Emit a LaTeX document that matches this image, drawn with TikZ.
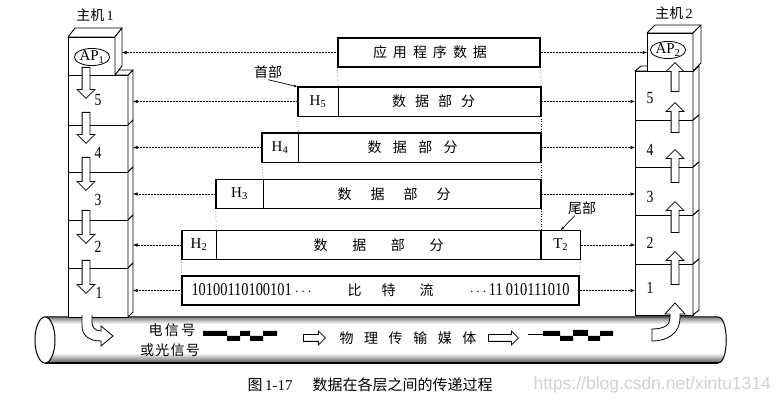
\documentclass[tikz,border=0pt]{standalone}
\usepackage{fontspec}
\setmainfont{Liberation Serif}
\newfontfamily\cjk{Noto Sans CJK SC}
\newfontfamily\narrow[FakeStretch=0.8]{Liberation Serif}
\newfontfamily\wmfont{Liberation Sans}
\usepackage{tikz}
\usetikzlibrary{positioning, arrows.meta, shapes.geometric, shapes.arrows}

\begin{document}
\begin{tikzpicture}[
    x=1pt, y=-1pt,
    layer/.style={draw=black, line width=0.9pt, fill=white, line join=round},
    pdu/.style={rectangle, draw, line width=0.6pt, minimum height=29pt, inner sep=0pt, font=\cjk\fontsize{14}{16}\selectfont},
    hdr/.style={pdu, font=\fontsize{15}{17}\selectfont},
    frame/.style={line width=1.3pt},
    num/.style={font=\narrow\fontsize{17}{19}\selectfont},
    ap/.style={ellipse, draw, line width=0.8pt, fill=white, inner sep=0pt, minimum height=17pt, font=\fontsize{15}{17}\selectfont},
    note/.style={font=\cjk\fontsize{14}{16}\selectfont, inner sep=1pt},
    hollow/.style={single arrow, draw, fill=white, line width=0.8pt, anchor=tail, inner sep=3.5pt, minimum width=17pt, single arrow head extend=5pt},
    goesdown/.style={hollow, rotate=-90},
    goesup/.style={hollow, rotate=90},
    link/.style={densely dotted, line width=0.5pt, -{Latex[length=4.5pt, width=3.5pt]}},
    guide/.style={dotted, line width=0.5pt},
    lead/.style={line width=0.7pt, -{Latex[length=3.5pt, width=2.5pt]}}
    ]
    \useasboundingbox (0,0) rectangle (779,411);
    \fill[white] (0,0) rectangle (779,411);

    % Physical medium (pipe)
    \begin{scope}
        \clip (45,317) -- (718,317) .. controls (729,317) and (729,363) .. (718,363) -- (45,363) -- cycle;
        \fill[white] (40,310) rectangle (730,370);
        \shade[top color=black!50, bottom color=white] (40,317) rectangle (730,324);
        \shade[top color=white, bottom color=black!65] (40,353) rectangle (730,363);
    \end{scope}
    \draw[line width=1pt] (45,317) -- (718,317) .. controls (729,317) and (729,363) .. (718,363);
    \draw[line width=2.2pt] (718,363) -- (45,363);
    \draw[line width=1pt, fill=white] (45,340) ellipse [x radius=10, y radius=23];

    % Host 1 stack
    \foreach \t/\b in {75/125, 125/172, 172/220, 220/268, 268/317} {
        \draw[layer] (68,\t) rectangle (128,\b);
        \draw[layer] (128,\t) -- ++(5,-5) -- (133,{\b-5}) -- (128,\b) -- cycle;
    }
    \draw[layer] (68,75) -- (73,70) -- (133,70) -- (128,75) -- cycle;
    \draw[layer] (68,37) rectangle (115,75);
    \draw[layer] (68,37) -- (75,28) -- (122,28) -- (115,37) -- cycle;
    \draw[layer] (115,37) -- (122,28) -- (122,66) -- (115,75) -- cycle;

    % Host 2 stack
    \foreach \t/\b in {71/120, 120/167, 167/215, 215/264, 264/315} {
        \draw[layer] (635,\t) rectangle (693,\b);
        \draw[layer] (693,\t) -- ++(6,-5) -- (699,{\b-5}) -- (693,\b) -- cycle;
    }
    \draw[layer] (635,71) -- (641,66) -- (699,66) -- (693,71) -- cycle;
    \draw[layer] (647,33) rectangle (693,71);
    \draw[layer] (647,33) -- (655,25) -- (701,25) -- (693,33) -- cycle;
    \draw[layer] (693,33) -- (701,25) -- (701,63) -- (693,71) -- cycle;

    \coordinate (apL) at (122,0);
    \coordinate (stL) at (133,0);
    \coordinate (apR) at (647,0);
    \coordinate (stR) at (635,0);

    % Nodes
    \node[note] (host1) at (95,15) {主机\,{\rmfamily\fontsize{14}{16}\selectfont 1}};
    \node[note] (host2) at (674,13) {主机\,{\rmfamily\fontsize{14}{16}\selectfont 2}};

    \node[ap, minimum width=34pt] (ap1) at (92,57) {AP\textsubscript{1}};
    \node[ap, minimum width=30pt] (ap2) at (668,50) {AP\textsubscript{2}};

    \node[num] (ln5) at (98,100) {5};
    \node[num] (ln4) at (98,153) {4};
    \node[num] (ln3) at (98,200) {3};
    \node[num] (ln2) at (98,247) {2};
    \node[num] (ln1) at (99,293) {1};
    \node[num] (rn5) at (650,98) {5};
    \node[num] (rn4) at (650,150) {4};
    \node[num] (rn3) at (650,197) {3};
    \node[num] (rn2) at (650,243) {2};
    \node[num] (rn1) at (650,288) {1};

    \node[goesdown, minimum height=31pt] (dn5) at (86,67) {};
    \node[goesdown, minimum height=31pt] (dn4) at (86,112) {};
    \node[goesdown, minimum height=33pt] (dn3) at (86,157) {};
    \node[goesdown, minimum height=33pt] (dn2) at (86,210) {};
    \node[goesdown, minimum height=33pt] (dn1) at (86,260) {};
    \node[goesup, minimum height=33pt] (up2) at (675,285) {};
    \node[goesup, minimum height=31pt] (up3) at (675,233) {};
    \node[goesup, minimum height=33pt] (up4) at (675,183) {};
    \node[goesup, minimum height=30pt] (up5) at (675,133) {};
    \node[goesup, minimum height=29pt] (upap) at (675,92) {};

    \node[pdu, frame, minimum width=202pt] (app) at (439,52.5) {\makebox[114pt]{应\hfill 用\hfill 程\hfill 序\hfill 数\hfill 据}\hspace*{18pt}};

    \node[hdr, minimum width=40pt] (h5) at (318,101.5) {H\textsubscript{5}};
    \node[pdu, right=0pt of h5, minimum width=202pt] (d5) {\makebox[83pt]{数\hfill 据\hfill 部\hfill 分}\hspace*{12pt}};

    \node[hdr, minimum width=36pt] (h4) at (280,147.5) {H\textsubscript{4}};
    \node[pdu, right=0pt of h4, minimum width=242pt] (d4) {\makebox[90pt]{数\hfill 据\hfill 部\hfill 分}\hspace*{14pt}};

    \node[hdr, minimum width=47pt] (h3) at (239.5,194) {H\textsubscript{3}};
    \node[pdu, right=0pt of h3, minimum width=277pt] (d3) {\makebox[113pt]{数\hfill 据\hfill 部\hfill 分}\hspace*{16pt}};

    \node[hdr, minimum width=34pt] (h2) at (199,245) {H\textsubscript{2}};
    \node[pdu, right=0pt of h2, minimum width=324pt] (d2) {\makebox[130pt]{数\hfill 据\hfill 部\hfill 分}};
    \node[hdr, right=0pt of d2, minimum width=39pt] (t2) {T\textsubscript{2}};

    \node[pdu, frame, minimum width=397pt, text width=378pt, align=left] (bits) at (380.5,290.5)
        {{\narrow\fontsize{18}{20}\selectfont 10100110100101\,}$\cdots$\hspace{36pt}比\hspace{20pt}特\hspace{24pt}流\hfill$\cdots$\,{\narrow\fontsize{18}{20}\selectfont 11\,010111010}};

    % Frames round the split units
    \draw[frame] (h5.north west) rectangle (d5.south east);
    \draw[frame] (h4.north west) rectangle (d4.south east);
    \draw[frame] (h3.north west) rectangle (d3.south east);
    \draw[frame] (h2.north west) rectangle (t2.south east);

    \node[note] (head) at (268,72) {首部};
    \node[note] (tail) at (582,208) {尾部};

    \node[note] (sig1) at (172,330) {\makebox[47pt]{电\hfill 信\hfill 号}};
    \node[note] (sig2) at (170,350) {\makebox[60pt]{或\hfill 光\hfill 信\hfill 号}};
    \node[hollow, minimum height=22pt, minimum width=13pt, inner sep=3pt, single arrow head extend=3.5pt] (go1) at (303,338) {};
    \node[note] (phy) at (408,338) {\makebox[137pt]{物\hfill 理\hfill 传\hfill 输\hfill 媒\hfill 体}};
    \node[hollow, minimum height=30pt, minimum width=13pt, inner sep=3pt, single arrow head extend=3.5pt] (go2) at (488,338) {};

    \node[font=\fontsize{15}{17}\selectfont] (cap) at (370,385) {{\cjk 图}\,1-17\hspace{20pt}{\cjk 数据在各层之间的传递过程}};
    \node[anchor=west, text=black!18, font=\wmfont\fontsize{17.5}{19}\selectfont] (wm) at (530,385) {https://blog.csdn.net/xintu1314};

    % Signals on the medium
    \fill (203,331) rectangle (227,336) (227,336) rectangle (240,341) (240,331) rectangle (250,336)
        (250,336) rectangle (263,341) (263,331) rectangle (277,336);
    \draw[line width=0.8pt] (528,334) -- (543,334);
    \fill (543,331) rectangle (560,336) (560,336) rectangle (573,341) (573,330) rectangle (588,336)
        (588,336) rectangle (600,341) (600,331) rectangle (613,336);

    % Into and out of the medium
    \draw[line width=0.8pt, fill=white] (82,315) -- (82,326) .. controls (82,336) and (90,341) .. (101,341)
        -- (101,346) -- (113,336) -- (101,326) -- (101,331) .. controls (95,331) and (92,327) .. (92,322) -- (92,315);
    \draw[line width=0.8pt, fill=white] (652,341) .. controls (668,341) and (680,333) .. (680,318) -- (680,314)
        -- (685,314) -- (675,303) -- (665,314) -- (670,314) -- (670,318) .. controls (670,325) and (664,329) .. (652,329) -- cycle;

    % Arrows
    \draw[link] (app.west) -- (app.west -| apL);
    \draw[link] (app.east) -- (app.east -| apR);
    \draw[link] (h5.west) -- (h5.west -| stL);
    \draw[link] (d5.east) -- (d5.east -| stR);
    \draw[link] (h4.west) -- (h4.west -| stL);
    \draw[link] (d4.east) -- (d4.east -| stR);
    \draw[link] (h3.west) -- (h3.west -| stL);
    \draw[link] (d3.east) -- (d3.east -| stR);
    \draw[link] (h2.west) -- (h2.west -| stL);
    \draw[link] (t2.east) -- (t2.east -| stR);
    \draw[link] (bits.west) -- (bits.west -| stL);
    \draw[link] (bits.east) -- (bits.east -| stR);

    % Guides between the units
    \draw[guide] (app.south west) -- (d5.north west);
    \draw[guide] (app.south east) -- (d5.north east);
    \draw[guide] (h5.south west) -- (d4.north west);
    \draw[guide] (d5.south east) -- (d4.north east);
    \draw[guide] (h4.south west) -- (d3.north west);
    \draw[guide] (d4.south east) -- (d3.north east);
    \draw[guide] (h3.south west) -- (d2.north west);
    \draw[guide] (d3.south east) -- (t2.north west);
    \draw[guide] (h2.south west) -- (bits.north west);
    \draw[guide] (t2.south east) -- (bits.north east);

    \draw[lead] (head.south) -- (h5.north west);
    \draw[lead] ([xshift=8pt]tail.south west) -- (t2.north);
\end{tikzpicture}
\end{document}
